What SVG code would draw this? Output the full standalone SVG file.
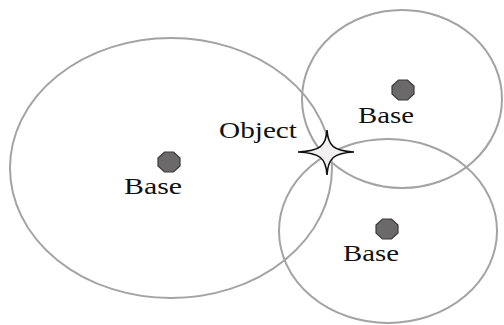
<svg xmlns="http://www.w3.org/2000/svg" width="504" height="325" viewBox="0 0 504 325">
<style>
.ring{fill:none;stroke:#a3a3a3;stroke-width:2}
.dot{fill:#6b6969;stroke:#3a3a3a;stroke-width:1.2}
.lbl{font-family:"Liberation Serif","Times New Roman",serif;font-size:24px;fill:#111}
</style>
<defs>
<polygon id="oct" points="-4.5,-10 4.5,-10 11,-4 11,4 4.5,10 -4.5,10 -11,4 -11,-4"/>
</defs>
<rect width="504" height="325" fill="#ffffff"/>
<g id="connectors"></g>
<g id="range1"><ellipse class="ring" cx="171" cy="168" rx="161" ry="130"/></g>
<g id="range2"><ellipse class="ring" cx="402" cy="99" rx="100" ry="89"/></g>
<g id="range3"><ellipse class="ring" cx="388" cy="231" rx="109" ry="92"/></g>
<g id="base1"><use href="#oct" class="dot" transform="translate(169,162)"/><text class="lbl" x="124" y="194" textLength="58" lengthAdjust="spacingAndGlyphs">Base</text></g>
<g id="base2"><use href="#oct" class="dot" transform="translate(403,90)"/><text class="lbl" x="358" y="123" textLength="56" lengthAdjust="spacingAndGlyphs">Base</text></g>
<g id="base3"><use href="#oct" class="dot" transform="translate(387,229)"/><text class="lbl" x="343" y="261" textLength="56" lengthAdjust="spacingAndGlyphs">Base</text></g>
<g id="object">
<text class="lbl" x="219" y="138" textLength="78" lengthAdjust="spacingAndGlyphs">Object</text>
<path d="M298,152 C320,151 326,146 327,130 C328,146 334,151 354,152 C334,153 328,158 327,175 C326,158 320,153 298,152 Z" fill="#f2f0f0" stroke="#111" stroke-width="1.6" stroke-linejoin="miter"/>
</g>
</svg>
